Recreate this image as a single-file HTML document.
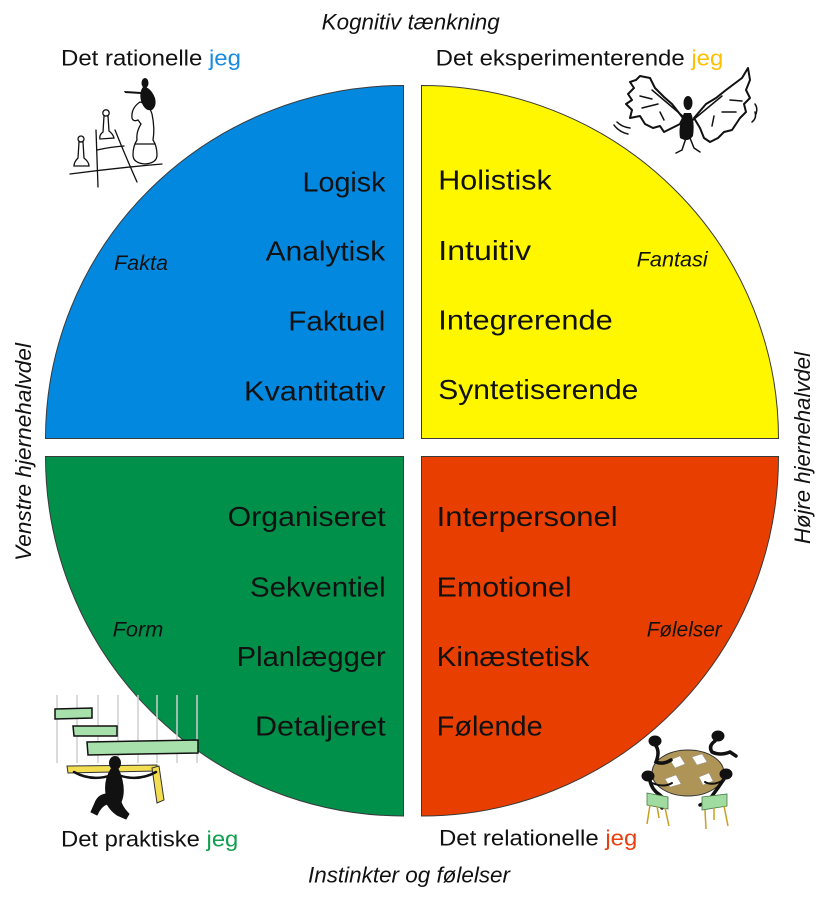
<!DOCTYPE html>
<html><head><meta charset="utf-8"><style>
html,body{margin:0;padding:0;background:#fff;}
svg{display:block;}
text{font-family:"Liberation Sans",sans-serif;fill:#111;}
.w{font-size:28px;}
.i{font-size:21px;font-style:italic;}
.h{font-size:22px;}
.hi{font-size:22px;font-style:italic;}
</style></head><body>
<svg width="830" height="904" viewBox="0 0 830 904" xmlns="http://www.w3.org/2000/svg">
<!-- quadrants -->
<path d="M403.5,438.5 L45.5,438.5 A358,353 0 0 1 403.5,85.5 Z" fill="#0388e0" stroke="#3a3a3a" stroke-width="1"/>
<path d="M421.5,438.5 L421.5,85.5 A357,353 0 0 1 778.5,438.5 Z" fill="#fff700" stroke="#3a3a3a" stroke-width="1"/>
<path d="M403.5,456.5 L403.5,816 A358,359.5 0 0 1 45.5,456.5 Z" fill="#00904a" stroke="#3a3a3a" stroke-width="1"/>
<path d="M421.5,456.5 L778.5,456.5 A357,359.5 0 0 1 421.5,816 Z" fill="#e83e00" stroke="#3a3a3a" stroke-width="1"/>

<!-- blue words -->
<text class="w" x="302.5" y="191.7" textLength="83" lengthAdjust="spacingAndGlyphs">Logisk</text>
<text class="w" x="265.7" y="260.7" textLength="119.5" lengthAdjust="spacingAndGlyphs">Analytisk</text>
<text class="w" x="288.3" y="330.7" textLength="97" lengthAdjust="spacingAndGlyphs">Faktuel</text>
<text class="w" x="244" y="400.7" textLength="141.5" lengthAdjust="spacingAndGlyphs">Kvantitativ</text>
<text class="i" x="114" y="270" textLength="54" lengthAdjust="spacingAndGlyphs">Fakta</text>

<!-- yellow words -->
<text class="w" x="438.3" y="189.3" textLength="113.4" lengthAdjust="spacingAndGlyphs">Holistisk</text>
<text class="w" x="438.3" y="260" textLength="92.7" lengthAdjust="spacingAndGlyphs">Intuitiv</text>
<text class="w" x="438.3" y="329.3" textLength="174.4" lengthAdjust="spacingAndGlyphs">Integrerende</text>
<text class="w" x="438.3" y="399" textLength="200" lengthAdjust="spacingAndGlyphs">Syntetiserende</text>
<text class="i" x="636.7" y="266.7" textLength="71" lengthAdjust="spacingAndGlyphs">Fantasi</text>

<!-- green words -->
<text class="w" x="227.7" y="526" textLength="158" lengthAdjust="spacingAndGlyphs">Organiseret</text>
<text class="w" x="250" y="596.7" textLength="135.7" lengthAdjust="spacingAndGlyphs">Sekventiel</text>
<text class="w" x="236.7" y="666" textLength="149" lengthAdjust="spacingAndGlyphs">Planlægger</text>
<text class="w" x="255" y="735.5" textLength="130.7" lengthAdjust="spacingAndGlyphs">Detaljeret</text>
<text class="i" x="112.7" y="636.7" textLength="50.6" lengthAdjust="spacingAndGlyphs">Form</text>

<!-- red words -->
<text class="w" x="436.7" y="526" textLength="181" lengthAdjust="spacingAndGlyphs">Interpersonel</text>
<text class="w" x="436.7" y="596.7" textLength="135" lengthAdjust="spacingAndGlyphs">Emotionel</text>
<text class="w" x="436.7" y="666" textLength="152.6" lengthAdjust="spacingAndGlyphs">Kinæstetisk</text>
<text class="w" x="436.7" y="735.5" textLength="106" lengthAdjust="spacingAndGlyphs">Følende</text>
<text class="i" x="646.7" y="636.7" textLength="75" lengthAdjust="spacingAndGlyphs">Følelser</text>

<!-- headings -->
<text class="hi" x="321.7" y="29.3" textLength="178" lengthAdjust="spacingAndGlyphs">Kognitiv tænkning</text>
<text class="h" x="61" y="65.7" textLength="180" lengthAdjust="spacingAndGlyphs">Det rationelle <tspan fill="#1a8ce0">jeg</tspan></text>
<text class="h" x="435.7" y="65.7" textLength="287.6" lengthAdjust="spacingAndGlyphs">Det eksperimenterende <tspan fill="#ffc000">jeg</tspan></text>
<text class="h" x="61" y="846.7" textLength="177.3" lengthAdjust="spacingAndGlyphs">Det praktiske <tspan fill="#12a050">jeg</tspan></text>
<text class="h" x="439" y="845.7" textLength="198.3" lengthAdjust="spacingAndGlyphs">Det relationelle <tspan fill="#e84010">jeg</tspan></text>
<text class="hi" x="308" y="882.7" textLength="202" lengthAdjust="spacingAndGlyphs">Instinkter og følelser</text>
<text class="hi" transform="translate(31,561) rotate(-90)" x="0" y="0" textLength="218" lengthAdjust="spacingAndGlyphs">Venstre hjernehalvdel</text>
<text class="hi" transform="translate(810,544) rotate(-90)" x="0" y="0" textLength="192" lengthAdjust="spacingAndGlyphs">Højre hjernehalvdel</text>

<!-- chess illustration -->
<g stroke="#111" fill="none" stroke-width="1.3" stroke-linecap="round">
  <path d="M70,174 Q115,168 162,164"/>
  <path d="M97,150 Q110,147 124,146"/>
  <path d="M96,130 L98,187"/>
  <path d="M115,130 Q125,155 137,182"/>
</g>
<g stroke="#111" stroke-width="1.3" fill="#fff">
  <circle cx="81" cy="139" r="3"/>
  <path d="M79,142 L78,158 Q74,162 74,166 L89,166 Q89,162 84,158 L83,142 Z"/>
  <circle cx="106" cy="113" r="3.2"/>
  <path d="M104,116 L103,132 Q99,135 100,139 L114,138 Q113,134 109,131 L108,116 Z"/>
  <path d="M140,102 Q131,108 132,118 Q133,122 138,120 L141,124 Q136,132 137,140 Q133,146 133,155 Q133,163 145,164 Q157,163 157,155 Q157,146 153,140 Q155,128 152,114 Q149,104 140,102 Z"/>
  <path d="M135,144 L155,144"/>
</g>
<g fill="#111">
  <ellipse cx="145" cy="83" rx="3.5" ry="5"/>
  <path d="M143,87 Q139,92 141,101 Q145,112 152,110 Q157,106 155,98 Q152,90 146,87 Z"/>
  <path d="M124,91 L141,92 L141,94 L125,93 Z"/>
</g>

<!-- bat / dragon illustration -->
<g stroke="#111" stroke-width="2" fill="#fff" stroke-linejoin="round">
  <path d="M683,118 L672,104 L664,97 L655,88 L650,78 L640,76 L636,80 L630,82 L634,88 L628,94 L632,100 L626,104 L632,110 L630,118 L640,116 L645,124 L653,128 L660,126 L664,132 L672,128 L680,124 Z"/>
  <path d="M694,118 L706,104 L716,98 L726,90 L734,84 L742,78 L748,68 L750,80 L746,90 L750,98 L744,104 L746,112 L740,118 L736,124 L732,130 L724,132 L718,138 L710,142 L704,138 L700,128 Z"/>
</g>
<g stroke="#111" stroke-width="1.5" fill="none" stroke-linecap="round">
  <path d="M652,90 L685,118"/><path d="M722,96 L693,120"/>
  <path d="M640,96 L652,99"/><path d="M642,108 L658,104"/><path d="M730,100 L742,101"/><path d="M722,112 L736,112"/>
  <path d="M660,112 L664,120"/><path d="M714,116 L712,126"/>
  <path d="M614,125 Q619,132 628,134"/><path d="M617,122 Q622,127 630,128"/>
  <path d="M755,112 Q757,118 752,122"/><path d="M755,104 Q758,108 756,114"/>
  <path d="M686,138 L682,150 L676,153"/><path d="M690,138 L694,148 L700,152"/>
</g>
<g fill="#111">
  <ellipse cx="688" cy="103" rx="4.5" ry="7"/>
  <path d="M684,113 Q678,126 680,138 Q688,143 693,136 Q695,122 691,113 Z"/>
</g>

<!-- gantt / practical illustration -->
<g stroke="#cfcfcf" stroke-width="1.5">
  <path d="M57,695 V763"/><path d="M77,695 V763"/><path d="M98,695 V763"/><path d="M118,695 V763"/>
  <path d="M138,695 V763"/><path d="M157,695 V763"/><path d="M177,695 V763"/><path d="M197,695 V763"/>
</g>
<g stroke="#111" stroke-width="1.5" fill="#a8e0ac">
  <path d="M55,709 L92,708 L92,718 L55,719 Z"/>
  <path d="M73,726 L117,726 L117,736 L74,736 Z"/>
  <path d="M87,742 L198,740 L198,753 L88,755 Z"/>
</g>
<g stroke="#333" stroke-width="1" fill="#f2de50">
  <path d="M67,766 L157,765 L157,771 L68,773 Z"/>
  <path d="M152,768 L159,766 L164,800 L157,803 Z"/>
</g>
<g fill="#111" stroke="#111" stroke-linecap="round">
  <ellipse cx="115" cy="763" rx="6" ry="7" stroke="none"/>
  <path d="M111,769 Q104,780 106,794 Q98,795 95,803 L91,812 L97,815 Q101,806 107,804 Q111,811 117,815 L126,819 L129,814 Q123,808 121,802 Q125,793 122,780 Q120,772 118,769 Z" stroke-width="1"/>
  <path d="M112,775 Q92,782 74,772" fill="none" stroke-width="2.5"/>
  <path d="M118,775 Q138,782 156,772" fill="none" stroke-width="2.5"/>
</g>

<!-- meeting illustration -->
<ellipse cx="688" cy="773" rx="36" ry="23" fill="#ae9456" stroke="#333" stroke-width="1"/>
<g fill="#fff" stroke="#999" stroke-width="0.5">
  <path d="M670,760 L680,756 L685,764 L675,768 Z"/>
  <path d="M692,757 L702,754 L707,762 L697,765 Z"/>
  <path d="M665,779 L676,775 L681,784 L670,787 Z"/>
  <path d="M699,777 L709,773 L713,781 L703,785 Z"/>
</g>
<g fill="#111" stroke="#111" stroke-linecap="round">
  <ellipse cx="655" cy="741" rx="6.5" ry="5.5" stroke="none"/>
  <ellipse cx="718" cy="736" rx="6.5" ry="5.5" stroke="none"/>
  <ellipse cx="648" cy="776" rx="6.5" ry="5.5" stroke="none"/>
  <ellipse cx="726" cy="774" rx="6.5" ry="5.5" stroke="none"/>
  <path d="M656,746 Q660,752 656,762 Q663,765 671,760" fill="none" stroke-width="3.5"/>
  <path d="M715,741 Q708,746 712,752 Q720,756 730,752 L736,756" fill="none" stroke-width="3.5"/>
  <path d="M650,781 Q652,790 660,795 L665,800 L662,808" fill="none" stroke-width="3.5"/>
  <path d="M724,779 Q718,788 712,796 L708,802 L700,805" fill="none" stroke-width="3.5"/>
  <path d="M652,783 Q664,788 672,783" fill="none" stroke-width="2"/>
  <path d="M722,781 Q712,786 705,782" fill="none" stroke-width="2"/>
</g>
<g fill="#a0dca0" stroke="#4a7a4a" stroke-width="0.8">
  <path d="M647,793 L668,797 L668,809 L647,805 Z"/>
  <path d="M702,797 L727,794 L727,806 L702,810 Z"/>
</g>
<g stroke="#c8a020" stroke-width="1.5">
  <path d="M650,805 L647,824"/><path d="M665,808 L669,826"/><path d="M657,806 L659,818"/>
  <path d="M705,810 L706,829"/><path d="M724,806 L728,826"/><path d="M714,808 L714,820"/>
</g>
</svg>
</body></html>
